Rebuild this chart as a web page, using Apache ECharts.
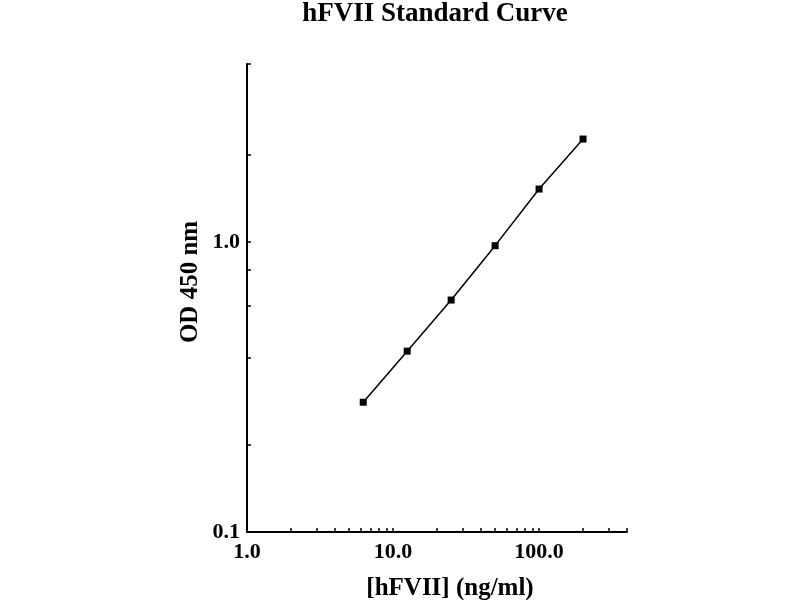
<!DOCTYPE html>
<html>
<head>
<meta charset="utf-8">
<script src="https://cdn.jsdelivr.net/npm/echarts@6/dist/echarts.min.js"></script>
<style>html,body{margin:0;padding:0;background:#fff}#c{width:800px;height:600px}</style>
</head>
<body>
<div id="c"></div>
<script>
// Data
const concentrations = [6.25, 12.5, 25, 50, 100, 200];
const odValues = [0.28, 0.42, 0.63, 0.97, 1.52, 2.26];

const xTickValues = [1, 10, 100];
const xTickLabels = ['1.0', '10.0', '100.0'];
const yTickValues = [0.1, 1];
const yTickLabels = ['0.1', '1.0'];
const xMinorTicks = [1, 2, 3, 4, 5, 6, 7, 8, 9, 10, 20, 30, 40, 50, 60, 70, 80, 90, 100, 200, 300, 400];
const yMinorTicks = [0.1, 0.2, 0.4, 0.6, 0.8, 1, 2, 4.1];

const FONT = '"Liberation Serif", "DejaVu Serif", serif';
const chart = echarts.init(document.getElementById('c'), null, {renderer: 'canvas'});

function labelFor(values, labels) {
  return function (v) {
    for (let i = 0; i < values.length; i++) {
      if (Math.abs(Math.log10(v) - Math.log10(values[i])) < 1e-6) return labels[i];
    }
    return '';
  };
}

chart.setOption({
  backgroundColor: '#fff',
  animation: false,
  title: {
    text: 'hFVII Standard Curve',
    left: 430,
    textAlign: 'center',
    top: -4,
    textStyle: {fontFamily: FONT, fontWeight: 'bold', fontSize: 27, color: '#000'}
  },
  grid: {left: 247, right: 173, top: 64, bottom: 68, containLabel: false, outerBoundsMode: 'none'},
  xAxis: {
    type: 'log',
    logBase: 10,
    min: 1,
    max: 400,
    name: '[hFVII] (ng/ml)',
    nameLocation: 'middle',
    nameGap: 44,
    nameTextStyle: {fontFamily: FONT, fontWeight: 'bold', fontSize: 25, color: '#000', padding: [0, 0, 0, 26]},
    axisLine: {lineStyle: {color: '#000', width: 2}},
    axisTick: {inside: true, length: 4, customValues: xMinorTicks, lineStyle: {color: '#000', width: 1.5}},
    axisLabel: {
      customValues: xTickValues,
      formatter: labelFor(xTickValues, xTickLabels),
      fontFamily: FONT, fontWeight: 'bold', fontSize: 22, color: '#000', margin: 9
    },
    splitLine: {show: false}
  },
  yAxis: {
    type: 'log',
    logBase: 10,
    min: 0.1,
    max: 4.1,
    name: 'OD 450 nm',
    nameLocation: 'middle',
    nameGap: 44,
    nameRotate: 90,
    nameTextStyle: {fontFamily: FONT, fontWeight: 'bold', fontSize: 25, color: '#000', padding: [0, 0, 0, 32]},
    axisLine: {lineStyle: {color: '#000', width: 2}},
    axisTick: {inside: true, length: 4, customValues: yMinorTicks, lineStyle: {color: '#000', width: 1.5}},
    axisLabel: {
      customValues: yTickValues,
      formatter: labelFor(yTickValues, yTickLabels),
      fontFamily: FONT, fontWeight: 'bold', fontSize: 22, color: '#000', margin: 7
    },
    splitLine: {show: false}
  },
  series: [{
    type: 'line',
    data: concentrations.map((c, i) => [c, odValues[i]]),
    symbol: 'rect',
    symbolSize: 7,
    lineStyle: {color: '#000', width: 1.5},
    itemStyle: {color: '#000'}
  }]
});
</script>
</body>
</html>
